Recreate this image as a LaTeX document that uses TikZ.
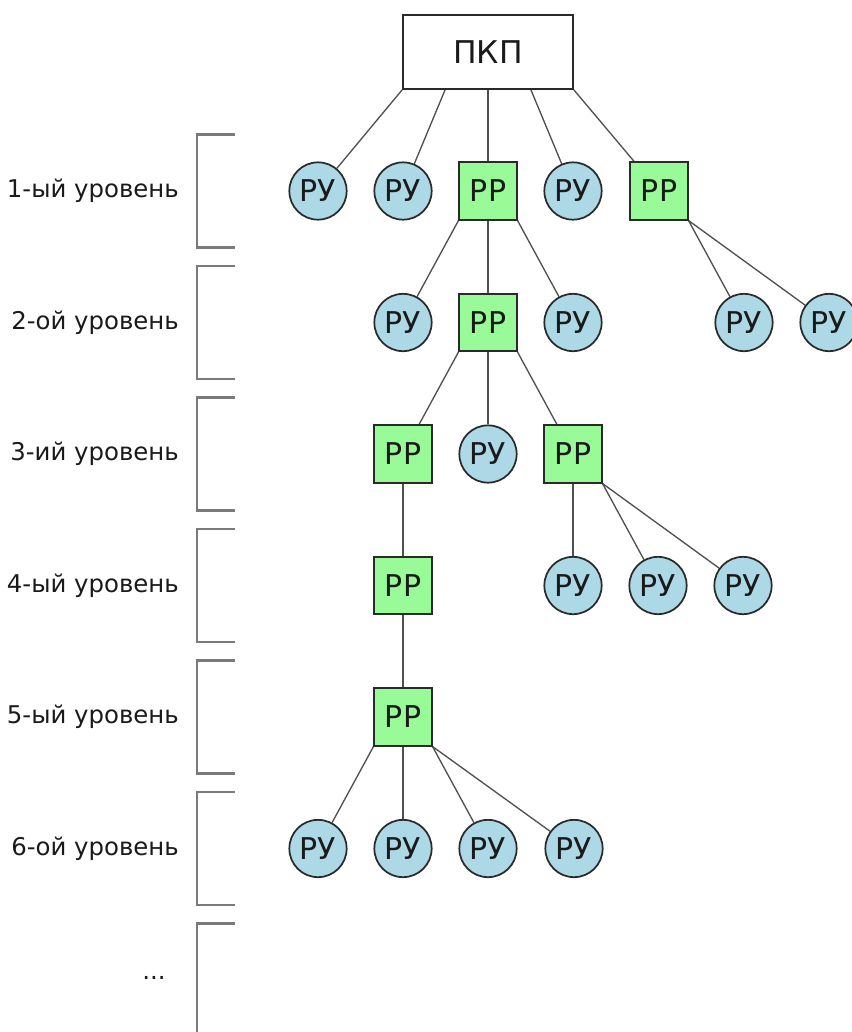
\documentclass[tikz,border=0pt]{standalone}
\usepackage{fontspec}
\setmainfont{DejaVu Sans}
\usetikzlibrary{calc,backgrounds}
\definecolor{rucol}{HTML}{ADD8E6}
\definecolor{rrcol}{HTML}{98FB98}
\definecolor{edgecol}{HTML}{2A2A2A}
\definecolor{conncol}{HTML}{505050}
\definecolor{brcol}{HTML}{7A7A7A}
\definecolor{txtcol}{HTML}{1A1A1A}
\begin{document}
\begin{tikzpicture}[x=0.75pt,y=-0.75pt,
  ru/.style={circle, draw=edgecol, line width=1.3pt, fill=rucol, minimum size=43pt, inner sep=0pt,
    font=\fontsize{22.5}{26}\selectfont, text=txtcol},
  rr/.style={rectangle, draw=edgecol, line width=1.3pt, fill=rrcol, minimum size=43pt, inner sep=0pt,
    font=\fontsize{22.5}{26}\selectfont, text=txtcol},
  topbox/.style={rectangle, draw=edgecol, line width=1.3pt, fill=white, minimum width=127.5pt,
    minimum height=55.5pt, inner sep=0pt, font=\fontsize{23.5}{27}\selectfont, text=txtcol},
  conn/.style={draw=conncol, line width=1.0pt},
  bracket/.style={draw=brcol, line width=1.6pt},
  lvl/.style={anchor=east, inner sep=0pt, font=\fontsize{18.3}{21}\selectfont, text=txtcol}]
\useasboundingbox (0,0) rectangle (851,1032);

% level labels and brackets
\foreach \i/\t in {1/1-ый уровень,2/2-ой уровень,3/3-ий уровень,4/4-ый уровень,5/5-ый уровень,6/6-ой уровень}{
  \pgfmathsetmacro{\yy}{191+(\i-1)*131.5}
  \node[lvl] (lab\i) at (179,\yy) {\t};
  \draw[bracket] (235,\yy-56.5) -- (197,\yy-56.5) -- (197,\yy+56.5) -- (235,\yy+56.5);
}
\node[lvl] (lab7) at (166,978) {...};
\draw[bracket] (235,923.5) -- (197,923.5) -- (197,1040);

% top
\node[topbox] (pkp) at (488,52) {ПКП};

% level 1
\node[ru] (a1) at (318,191) {РУ};
\node[ru] (a2) at (403,191) {РУ};
\node[rr] (a3) at (488,191) {РР};
\node[ru] (a4) at (573,191) {РУ};
\node[rr] (a5) at (659,191) {РР};

% level 2
\node[ru] (b1) at (403,322.5) {РУ};
\node[rr] (b2) at (488,322.5) {РР};
\node[ru] (b3) at (573,322.5) {РУ};
\node[ru] (b4) at (744,322.5) {РУ};
\node[ru] (b5) at (829,322.5) {РУ};

% level 3
\node[rr] (c1) at (403,454) {РР};
\node[ru] (c2) at (488,454) {РУ};
\node[rr] (c3) at (573,454) {РР};

% level 4
\node[rr] (d1) at (403,585.5) {РР};
\node[ru] (d2) at (573,585.5) {РУ};
\node[ru] (d3) at (658,585.5) {РУ};
\node[ru] (d4) at (743,585.5) {РУ};

% level 5
\node[rr] (e1) at (403,717) {РР};

% level 6
\node[ru] (f1) at (318,848.5) {РУ};
\node[ru] (f2) at (403,848.5) {РУ};
\node[ru] (f3) at (488,848.5) {РУ};
\node[ru] (f4) at (574,848.5) {РУ};

% connectors
\begin{scope}[on background layer]
\draw[conn] (pkp.south west) -- (a1);
\draw[conn] ($(pkp.south west)!0.25!(pkp.south east)$) -- (a2);
\draw[conn] (pkp.south) -- (a3);
\draw[conn] ($(pkp.south west)!0.75!(pkp.south east)$) -- (a4);
\draw[conn] (pkp.south east) -- (a5);

\draw[conn] (a3.south west) -- (b1);
\draw[conn] (a3.south) -- (b2);
\draw[conn] (a3.south east) -- (b3);
\draw[conn] (a5.south east) -- (b4);
\draw[conn] (a5.south east) -- (b5);

\draw[conn] (b2.south west) -- (c1);
\draw[conn] (b2.south) -- (c2);
\draw[conn] (b2.south east) -- (c3);

\draw[conn] (c1.south) -- (d1);
\draw[conn] (c3.south) -- (d2);
\draw[conn] (c3.south east) -- (d3);
\draw[conn] (c3.south east) -- (d4);

\draw[conn] (d1.south) -- (e1);

\draw[conn] (e1.south west) -- (f1);
\draw[conn] (e1.south) -- (f2);
\draw[conn] (e1.south east) -- (f3);
\draw[conn] (e1.south east) -- (f4);
\end{scope}
\end{tikzpicture}
\end{document}
